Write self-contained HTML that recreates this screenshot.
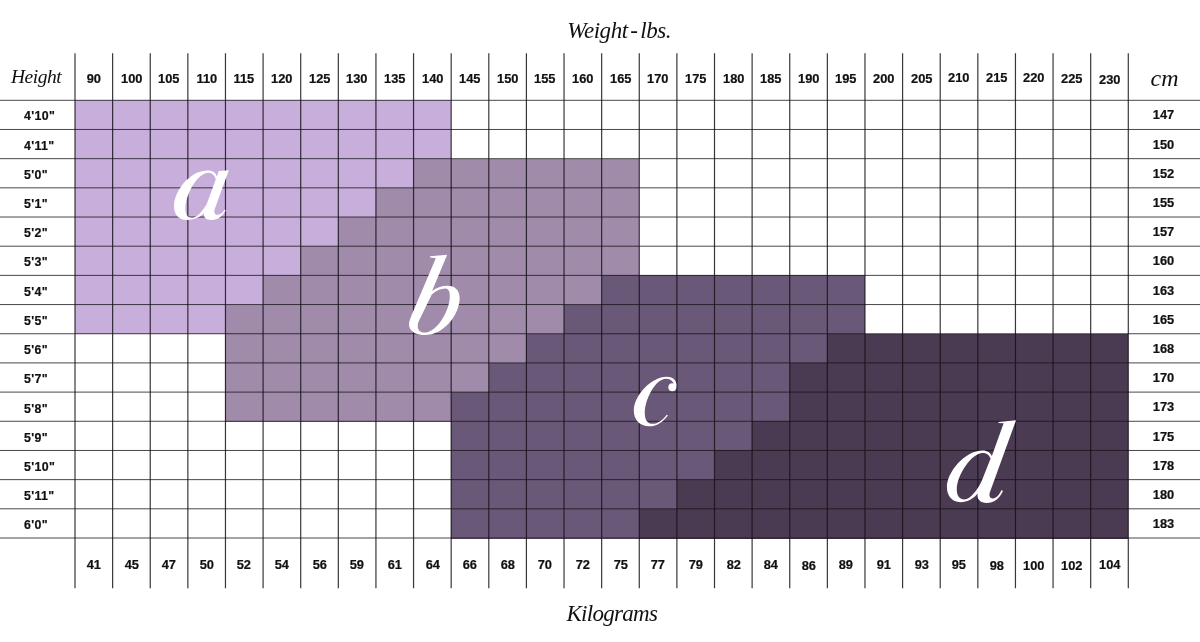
<!DOCTYPE html>
<html><head><meta charset="utf-8"><title>Size chart</title>
<style>
html,body{margin:0;padding:0;background:#fff;}
body{width:1200px;height:642px;position:relative;overflow:hidden;font-family:"Liberation Sans",sans-serif;}
svg{position:absolute;left:0;top:0;}
.a{fill:#c8aedb;}
.b{fill:#a08bab;}
.c{fill:#6a5878;}
.d{fill:#4a3b52;}
.v{stroke:#17131a;stroke-opacity:.85;stroke-width:1.2;}
.h{stroke:#17131a;stroke-opacity:.78;stroke-width:1;}
.L{fill:#fff;fill-rule:evenodd;}
.T{position:absolute;left:0;top:0;width:1200px;height:642px;will-change:transform;}
.n{position:absolute;font-weight:bold;font-size:12px;line-height:14px;height:14px;color:#111;text-align:center;white-space:nowrap;transform:scaleX(1.07);-webkit-text-stroke:.2px #111;}
.hl{text-align:left;transform-origin:0 50%;transform:scaleX(1.03);letter-spacing:.35px;}
.s{position:absolute;font-family:"Liberation Serif",serif;font-style:italic;color:#111;white-space:nowrap;}
</style></head><body>
<svg width="1200" height="642" viewBox="0 0 1200 642">
<g shape-rendering="crispEdges">
<rect class="a" x="75" y="100.3" width="376.18" height="29.68"/>
<rect class="a" x="75" y="129.48" width="376.18" height="29.68"/>
<rect class="a" x="75" y="158.66" width="338.56" height="29.68"/>
<rect class="b" x="413.56" y="158.66" width="225.71" height="29.68"/>
<rect class="a" x="75" y="187.84" width="300.94" height="29.68"/>
<rect class="b" x="375.94" y="187.84" width="263.32" height="29.68"/>
<rect class="a" x="75" y="217.02" width="263.32" height="29.68"/>
<rect class="b" x="338.32" y="217.02" width="300.94" height="29.68"/>
<rect class="a" x="75" y="246.2" width="225.71" height="29.68"/>
<rect class="b" x="300.71" y="246.2" width="338.56" height="29.68"/>
<rect class="a" x="75" y="275.38" width="188.09" height="29.68"/>
<rect class="b" x="263.09" y="275.38" width="338.56" height="29.68"/>
<rect class="c" x="601.65" y="275.38" width="263.32" height="29.68"/>
<rect class="a" x="75" y="304.56" width="150.47" height="29.68"/>
<rect class="b" x="225.47" y="304.56" width="338.56" height="29.68"/>
<rect class="c" x="564.03" y="304.56" width="300.94" height="29.68"/>
<rect class="b" x="225.47" y="333.74" width="300.94" height="29.68"/>
<rect class="c" x="526.41" y="333.74" width="300.94" height="29.68"/>
<rect class="d" x="827.36" y="333.74" width="300.94" height="29.68"/>
<rect class="b" x="225.47" y="362.92" width="263.32" height="29.68"/>
<rect class="c" x="488.8" y="362.92" width="300.94" height="29.68"/>
<rect class="d" x="789.74" y="362.92" width="338.56" height="29.68"/>
<rect class="b" x="225.47" y="392.1" width="225.71" height="29.68"/>
<rect class="c" x="451.18" y="392.1" width="338.56" height="29.68"/>
<rect class="d" x="789.74" y="392.1" width="338.56" height="29.68"/>
<rect class="c" x="451.18" y="421.28" width="300.94" height="29.68"/>
<rect class="d" x="752.12" y="421.28" width="376.18" height="29.68"/>
<rect class="c" x="451.18" y="450.46" width="263.32" height="29.68"/>
<rect class="d" x="714.5" y="450.46" width="413.8" height="29.68"/>
<rect class="c" x="451.18" y="479.64" width="225.71" height="29.68"/>
<rect class="d" x="676.89" y="479.64" width="451.41" height="29.68"/>
<rect class="c" x="451.18" y="508.82" width="188.09" height="29.68"/>
<rect class="d" x="639.27" y="508.82" width="489.03" height="29.68"/>
</g>
<g>
<line class="v" x1="75" x2="75" y1="53.3" y2="588.3"/>
<line class="v" x1="112.62" x2="112.62" y1="53.3" y2="588.3"/>
<line class="v" x1="150.24" x2="150.24" y1="53.3" y2="588.3"/>
<line class="v" x1="187.85" x2="187.85" y1="53.3" y2="588.3"/>
<line class="v" x1="225.47" x2="225.47" y1="53.3" y2="588.3"/>
<line class="v" x1="263.09" x2="263.09" y1="53.3" y2="588.3"/>
<line class="v" x1="300.71" x2="300.71" y1="53.3" y2="588.3"/>
<line class="v" x1="338.32" x2="338.32" y1="53.3" y2="588.3"/>
<line class="v" x1="375.94" x2="375.94" y1="53.3" y2="588.3"/>
<line class="v" x1="413.56" x2="413.56" y1="53.3" y2="588.3"/>
<line class="v" x1="451.18" x2="451.18" y1="53.3" y2="588.3"/>
<line class="v" x1="488.8" x2="488.8" y1="53.3" y2="588.3"/>
<line class="v" x1="526.41" x2="526.41" y1="53.3" y2="588.3"/>
<line class="v" x1="564.03" x2="564.03" y1="53.3" y2="588.3"/>
<line class="v" x1="601.65" x2="601.65" y1="53.3" y2="588.3"/>
<line class="v" x1="639.27" x2="639.27" y1="53.3" y2="588.3"/>
<line class="v" x1="676.89" x2="676.89" y1="53.3" y2="588.3"/>
<line class="v" x1="714.5" x2="714.5" y1="53.3" y2="588.3"/>
<line class="v" x1="752.12" x2="752.12" y1="53.3" y2="588.3"/>
<line class="v" x1="789.74" x2="789.74" y1="53.3" y2="588.3"/>
<line class="v" x1="827.36" x2="827.36" y1="53.3" y2="588.3"/>
<line class="v" x1="864.97" x2="864.97" y1="53.3" y2="588.3"/>
<line class="v" x1="902.59" x2="902.59" y1="53.3" y2="588.3"/>
<line class="v" x1="940.21" x2="940.21" y1="53.3" y2="588.3"/>
<line class="v" x1="977.83" x2="977.83" y1="53.3" y2="588.3"/>
<line class="v" x1="1015.45" x2="1015.45" y1="53.3" y2="588.3"/>
<line class="v" x1="1053.06" x2="1053.06" y1="53.3" y2="588.3"/>
<line class="v" x1="1090.68" x2="1090.68" y1="53.3" y2="588.3"/>
<line class="v" x1="1128.3" x2="1128.3" y1="53.3" y2="588.3"/>
<line class="h" x1="0" x2="1200" y1="100.3" y2="100.3"/>
<line class="h" x1="0" x2="1200" y1="129.48" y2="129.48"/>
<line class="h" x1="0" x2="1200" y1="158.66" y2="158.66"/>
<line class="h" x1="0" x2="1200" y1="187.84" y2="187.84"/>
<line class="h" x1="0" x2="1200" y1="217.02" y2="217.02"/>
<line class="h" x1="0" x2="1200" y1="246.2" y2="246.2"/>
<line class="h" x1="0" x2="1200" y1="275.38" y2="275.38"/>
<line class="h" x1="0" x2="1200" y1="304.56" y2="304.56"/>
<line class="h" x1="0" x2="1200" y1="333.74" y2="333.74"/>
<line class="h" x1="0" x2="1200" y1="362.92" y2="362.92"/>
<line class="h" x1="0" x2="1200" y1="392.1" y2="392.1"/>
<line class="h" x1="0" x2="1200" y1="421.28" y2="421.28"/>
<line class="h" x1="0" x2="1200" y1="450.46" y2="450.46"/>
<line class="h" x1="0" x2="1200" y1="479.64" y2="479.64"/>
<line class="h" x1="0" x2="1200" y1="508.82" y2="508.82"/>
<line class="h" x1="0" x2="1200" y1="538" y2="538"/>
</g>
<g class="L">
<path transform="translate(160 155) scale(.12469)" d="M470 128L552 122L437 440C430 470 445 482 462 480C485 478 505 462 520 438L527 445C505 485 465 522 410 522C370 522 348 500 352 468C320 500 270 522 215 522C150 522 112 480 112 410C112 300 230 125 385 125C425 125 450 145 456 175ZM447 197C440 160 415 142 387 142C300 142 203 320 203 430C203 480 224 504 252 504C296 504 340 450 375 392Z"/>
<path transform="translate(395 245) scale(.15576)" d="M225 72L335 62L238 295C265 275 300 262 335 262C385 262 415 290 415 340C415 450 310 578 195 578C130 578 90 550 90 510C90 490 100 470 105 455L262 85L225 80ZM236 318C262 295 295 280 322 280C345 280 352 300 352 330C352 420 270 562 188 562C160 562 146 545 146 520C146 505 150 495 155 485Z"/>
<path transform="translate(620 365) scale(.11682)" d="M483 185C490 140 460 100 400 100C270 100 118 260 118 390C118 470 170 525 250 525C320 525 375 480 410 432L400 425C365 470 325 503 280 503C235 503 212 470 212 410C212 300 300 118 395 118C435 118 462 145 468 185Z"/>
<circle transform="translate(620 365) scale(.11682)" cx="448" cy="191" r="34"/>
<path transform="translate(935 410) scale(.15886)" d="M400 76L510 65L345 520C339 543 347 558 364 557C386 555 405 532 419 503L428 510C405 560 370 585 325 585C285 585 262 560 268 525C245 555 205 580 160 580C105 580 75 540 75 485C75 390 190 255 300 255C330 255 350 270 358 290L432 84L400 82ZM350 305C340 280 322 270 300 270C230 270 137 410 137 500C137 540 156 563 185 563C225 562 268 500 292 452Z"/>
</g>
</svg>
<div class="T">
<div class="n" style="left:75px;width:37.62px;top:71.5px">90</div>
<div class="n" style="left:112.62px;width:37.62px;top:71.5px">100</div>
<div class="n" style="left:150.24px;width:37.62px;top:71.5px">105</div>
<div class="n" style="left:187.85px;width:37.62px;top:71.5px">110</div>
<div class="n" style="left:225.47px;width:37.62px;top:71.5px">115</div>
<div class="n" style="left:263.09px;width:37.62px;top:71.5px">120</div>
<div class="n" style="left:300.71px;width:37.62px;top:71.5px">125</div>
<div class="n" style="left:338.32px;width:37.62px;top:71.5px">130</div>
<div class="n" style="left:375.94px;width:37.62px;top:71.5px">135</div>
<div class="n" style="left:413.56px;width:37.62px;top:71.5px">140</div>
<div class="n" style="left:451.18px;width:37.62px;top:71.5px">145</div>
<div class="n" style="left:488.8px;width:37.62px;top:71.5px">150</div>
<div class="n" style="left:526.41px;width:37.62px;top:71.5px">155</div>
<div class="n" style="left:564.03px;width:37.62px;top:71.5px">160</div>
<div class="n" style="left:601.65px;width:37.62px;top:71.5px">165</div>
<div class="n" style="left:639.27px;width:37.62px;top:71.5px">170</div>
<div class="n" style="left:676.89px;width:37.62px;top:71.5px">175</div>
<div class="n" style="left:714.5px;width:37.62px;top:71.5px">180</div>
<div class="n" style="left:752.12px;width:37.62px;top:71.5px">185</div>
<div class="n" style="left:789.74px;width:37.62px;top:71.5px">190</div>
<div class="n" style="left:827.36px;width:37.62px;top:71.5px">195</div>
<div class="n" style="left:864.97px;width:37.62px;top:71.5px">200</div>
<div class="n" style="left:902.59px;width:37.62px;top:71.5px">205</div>
<div class="n" style="left:940.21px;width:37.62px;top:70.5px">210</div>
<div class="n" style="left:977.83px;width:37.62px;top:70.5px">215</div>
<div class="n" style="left:1015.45px;width:37.62px;top:70.5px">220</div>
<div class="n" style="left:1053.06px;width:37.62px;top:71.5px">225</div>
<div class="n" style="left:1090.68px;width:37.62px;top:72.5px">230</div>
<div class="n" style="left:75px;width:37.62px;top:558px">41</div>
<div class="n" style="left:112.62px;width:37.62px;top:558px">45</div>
<div class="n" style="left:150.24px;width:37.62px;top:558px">47</div>
<div class="n" style="left:187.85px;width:37.62px;top:558px">50</div>
<div class="n" style="left:225.47px;width:37.62px;top:558px">52</div>
<div class="n" style="left:263.09px;width:37.62px;top:558px">54</div>
<div class="n" style="left:300.71px;width:37.62px;top:558px">56</div>
<div class="n" style="left:338.32px;width:37.62px;top:558px">59</div>
<div class="n" style="left:375.94px;width:37.62px;top:558px">61</div>
<div class="n" style="left:413.56px;width:37.62px;top:558px">64</div>
<div class="n" style="left:451.18px;width:37.62px;top:558px">66</div>
<div class="n" style="left:488.8px;width:37.62px;top:558px">68</div>
<div class="n" style="left:526.41px;width:37.62px;top:558px">70</div>
<div class="n" style="left:564.03px;width:37.62px;top:558px">72</div>
<div class="n" style="left:601.65px;width:37.62px;top:558px">75</div>
<div class="n" style="left:639.27px;width:37.62px;top:558px">77</div>
<div class="n" style="left:676.89px;width:37.62px;top:558px">79</div>
<div class="n" style="left:714.5px;width:37.62px;top:558px">82</div>
<div class="n" style="left:752.12px;width:37.62px;top:558px">84</div>
<div class="n" style="left:789.74px;width:37.62px;top:559px">86</div>
<div class="n" style="left:827.36px;width:37.62px;top:558px">89</div>
<div class="n" style="left:864.97px;width:37.62px;top:558px">91</div>
<div class="n" style="left:902.59px;width:37.62px;top:558px">93</div>
<div class="n" style="left:940.21px;width:37.62px;top:558px">95</div>
<div class="n" style="left:977.83px;width:37.62px;top:559px">98</div>
<div class="n" style="left:1015.45px;width:37.62px;top:559px">100</div>
<div class="n" style="left:1053.06px;width:37.62px;top:559px">102</div>
<div class="n" style="left:1090.68px;width:37.62px;top:558px">104</div>
<div class="n hl" style="left:24px;top:109px">4'10&quot;</div>
<div class="n hl" style="left:24px;top:139px">4'11&quot;</div>
<div class="n hl" style="left:24px;top:168px">5'0&quot;</div>
<div class="n hl" style="left:24px;top:197px">5'1&quot;</div>
<div class="n hl" style="left:24px;top:226px">5'2&quot;</div>
<div class="n hl" style="left:24px;top:255px">5'3&quot;</div>
<div class="n hl" style="left:24px;top:285px">5'4&quot;</div>
<div class="n hl" style="left:24px;top:314px">5'5&quot;</div>
<div class="n hl" style="left:24px;top:343px">5'6&quot;</div>
<div class="n hl" style="left:24px;top:372px">5'7&quot;</div>
<div class="n hl" style="left:24px;top:402px">5'8&quot;</div>
<div class="n hl" style="left:24px;top:431px">5'9&quot;</div>
<div class="n hl" style="left:24px;top:460px">5'10&quot;</div>
<div class="n hl" style="left:24px;top:489px">5'11&quot;</div>
<div class="n hl" style="left:24px;top:518px">6'0&quot;</div>
<div class="n" style="left:1129px;width:69px;top:108px">147</div>
<div class="n" style="left:1129px;width:69px;top:138px">150</div>
<div class="n" style="left:1129px;width:69px;top:167px">152</div>
<div class="n" style="left:1129px;width:69px;top:196px">155</div>
<div class="n" style="left:1129px;width:69px;top:225px">157</div>
<div class="n" style="left:1129px;width:69px;top:254px">160</div>
<div class="n" style="left:1129px;width:69px;top:284px">163</div>
<div class="n" style="left:1129px;width:69px;top:313px">165</div>
<div class="n" style="left:1129px;width:69px;top:342px">168</div>
<div class="n" style="left:1129px;width:69px;top:371px">170</div>
<div class="n" style="left:1129px;width:69px;top:400px">173</div>
<div class="n" style="left:1129px;width:69px;top:430px">175</div>
<div class="n" style="left:1129px;width:69px;top:459px">178</div>
<div class="n" style="left:1129px;width:69px;top:488px">180</div>
<div class="n" style="left:1129px;width:69px;top:517px">183</div>
<div class="s" style="left:11px;top:65.5px;font-size:19.5px;line-height:22px;letter-spacing:-.5px">Height</div>
<div class="s" style="left:567.3px;top:19px;font-size:23px;line-height:24px;letter-spacing:-.45px;word-spacing:-2.6px">Weight - lbs.</div>
<div class="s" style="left:566.4px;top:602px;font-size:23px;line-height:24px;letter-spacing:-.7px">Kilograms</div>
<div class="s" style="left:1150.6px;top:66px;font-size:24px;line-height:24px">cm</div>
</div>
</body></html>
